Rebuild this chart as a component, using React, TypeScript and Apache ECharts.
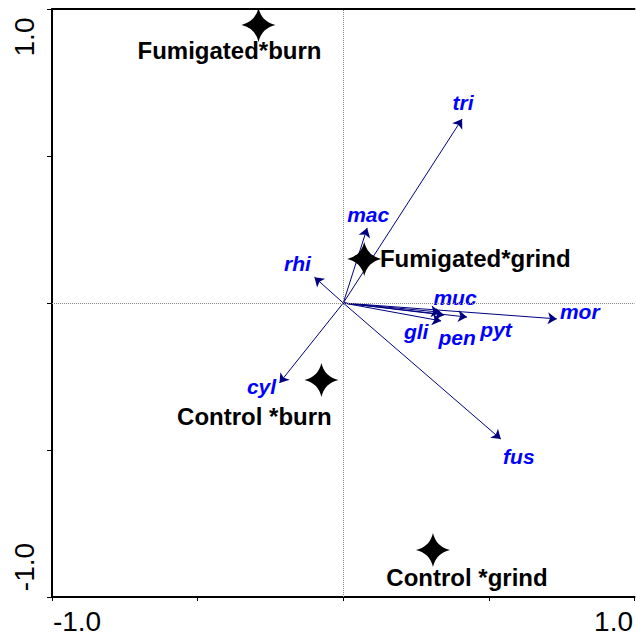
import React, { useEffect, useRef } from "react";
import * as echarts from "echarts";

// Species (response variables) – arrow tips
const speciesNames = ["tri", "mac", "rhi", "muc", "mor", "pyt", "pen", "gli", "cyl", "fus"];
const speciesX = [0.408, 0.082, -0.099, 0.332, 0.733, 0.425, 0.346, 0.336, -0.219, 0.541];
const speciesY = [0.626, 0.255, 0.088, -0.031, -0.054, -0.048, -0.041, -0.061, -0.272, -0.463];
// label offsets in pixels (layout only)
const speciesLabelOffset = [
  [1, -16], [1, -14], [-17, -14], [15, -15], [23, -7],
  [29, 12], [13, 22], [-25, 11], [-18, 4], [18, 17],
];

// Samples (treatment centroids)
const sampleNames = ["Fumigated*burn", "Fumigated*grind", "Control *burn", "Control *grind"];
const sampleX = [-0.291, 0.072, -0.075, 0.308];
const sampleY = [0.946, 0.15, -0.262, -0.84];
const sampleLabelOffset = [[-29, 26], [111, 0], [-67, 36], [34, 28]];

const axisTicks = [-1, -0.5, 0, 0.5, 1];

const FONT = "'Liberation Sans', Arial, sans-serif";
const STAR =
  "path://M0,-16 Q3,-3 16,0 Q3,3 0,16 Q-3,3 -16,0 Q-3,-3 0,-16 Z";

export default function App() {
  const ref = useRef<HTMLDivElement>(null);
  useEffect(() => {
    if (!ref.current) return;
    const chart = echarts.init(ref.current, undefined, { renderer: "svg" });

    const arrows = speciesNames.map((n, i) => ({
      name: n,
      coords: [
        [0, 0],
        [speciesX[i], speciesY[i]],
      ],
    }));

    const speciesPts = speciesNames.map((n, i) => ({
      name: n,
      value: [speciesX[i], speciesY[i]],
      label: { offset: speciesLabelOffset[i] },
    }));

    const samplePts = sampleNames.map((n, i) => ({
      name: n,
      value: [sampleX[i], sampleY[i]],
      label: { offset: sampleLabelOffset[i] },
    }));

    const tickMin = axisTicks[0];
    const tickMax = axisTicks[axisTicks.length - 1];

    chart.setOption({
      animation: false,
      backgroundColor: "#ffffff",
      textStyle: { fontFamily: FONT },
      grid: { left: 52, top: 9, right: 0, bottom: 39, containLabel: false },
      xAxis: [
        {
          type: "value",
          min: tickMin,
          max: tickMax,
          interval: 0.5,
          axisLine: { show: true, onZero: false, lineStyle: { color: "#000", width: 2 } },
          axisTick: { show: true, length: 4, lineStyle: { color: "#000", width: 1 } },
          splitLine: { show: false },
          axisLabel: {
            margin: 10,
            color: "#000",
            fontSize: 28,
            fontFamily: FONT,
            formatter: (v: number) =>
              v === tickMin ? "{a|-1.0}" : v === tickMax ? "{b|1.0}" : "",
            rich: {
              a: { fontSize: 28, fontFamily: FONT, color: "#000", padding: [0, 0, 0, 50] },
              b: { fontSize: 28, fontFamily: FONT, color: "#000", padding: [0, 42, 0, 0] },
            },
          },
        },
        {
          type: "value",
          position: "top",
          min: tickMin,
          max: tickMax,
          axisLine: { show: true, onZero: false, lineStyle: { color: "#000", width: 2 } },
          axisTick: { show: false },
          axisLabel: { show: false },
          splitLine: { show: false },
        },
      ],
      yAxis: {
        type: "value",
        min: tickMin,
        max: tickMax,
        interval: 0.5,
        axisLine: { show: true, onZero: false, lineStyle: { color: "#000", width: 2 } },
        axisTick: { show: true, length: 5, lineStyle: { color: "#000", width: 1 } },
        splitLine: { show: false },
        axisLabel: {
          rotate: 90,
          margin: 14,
          color: "#000",
          fontSize: 28,
          fontFamily: FONT,
          formatter: (v: number) =>
            v === tickMin ? "{a|-1.0}" : v === tickMax ? "{b|1.0}" : "",
          rich: {
            a: { fontSize: 28, fontFamily: FONT, color: "#000", padding: [0, 0, 0, 60] },
            b: { fontSize: 28, fontFamily: FONT, color: "#000", padding: [0, 56, 0, 0] },
          },
        },
      },
      series: [
        {
          type: "scatter",
          xAxisIndex: 0,
          symbolSize: 0,
          data: [],
          silent: true,
          markLine: {
            silent: true,
            symbol: "none",
            label: { show: false },
            lineStyle: { color: "#888", type: "dotted", width: 1 },
            data: [{ xAxis: 0 }, { yAxis: 0 }],
          },
        },
        {
          type: "lines",
          coordinateSystem: "cartesian2d",
          xAxisIndex: 0,
          symbol: ["none", "arrow"],
          symbolSize: 9,
          lineStyle: { color: "#000080", width: 1, opacity: 1, curveness: 0 },
          data: arrows,
          silent: true,
          z: 3,
        },
        {
          type: "scatter",
          xAxisIndex: 0,
          symbolSize: 1,
          itemStyle: { color: "rgba(0,0,0,0)", opacity: 1 },
          data: speciesPts,
          label: {
            show: true,
            position: "inside",
            formatter: "{b}",
            color: "#0000ff",
            fontSize: 21,
            fontWeight: "bold",
            fontStyle: "italic",
            fontFamily: FONT,
          },
          z: 4,
        },
        {
          type: "scatter",
          xAxisIndex: 0,
          symbol: STAR,
          symbolSize: 34,
          itemStyle: { color: "#000", opacity: 1 },
          data: samplePts,
          label: {
            show: true,
            position: "inside",
            formatter: "{b}",
            color: "#000",
            fontSize: 24,
            fontWeight: "bold",
            fontFamily: FONT,
          },
          z: 5,
        },
      ],
    });
    return () => chart.dispose();
  }, []);

  return <div ref={ref} style={{ width: 636, height: 636, position: "absolute", left: 0, top: 0 }} />;
}
